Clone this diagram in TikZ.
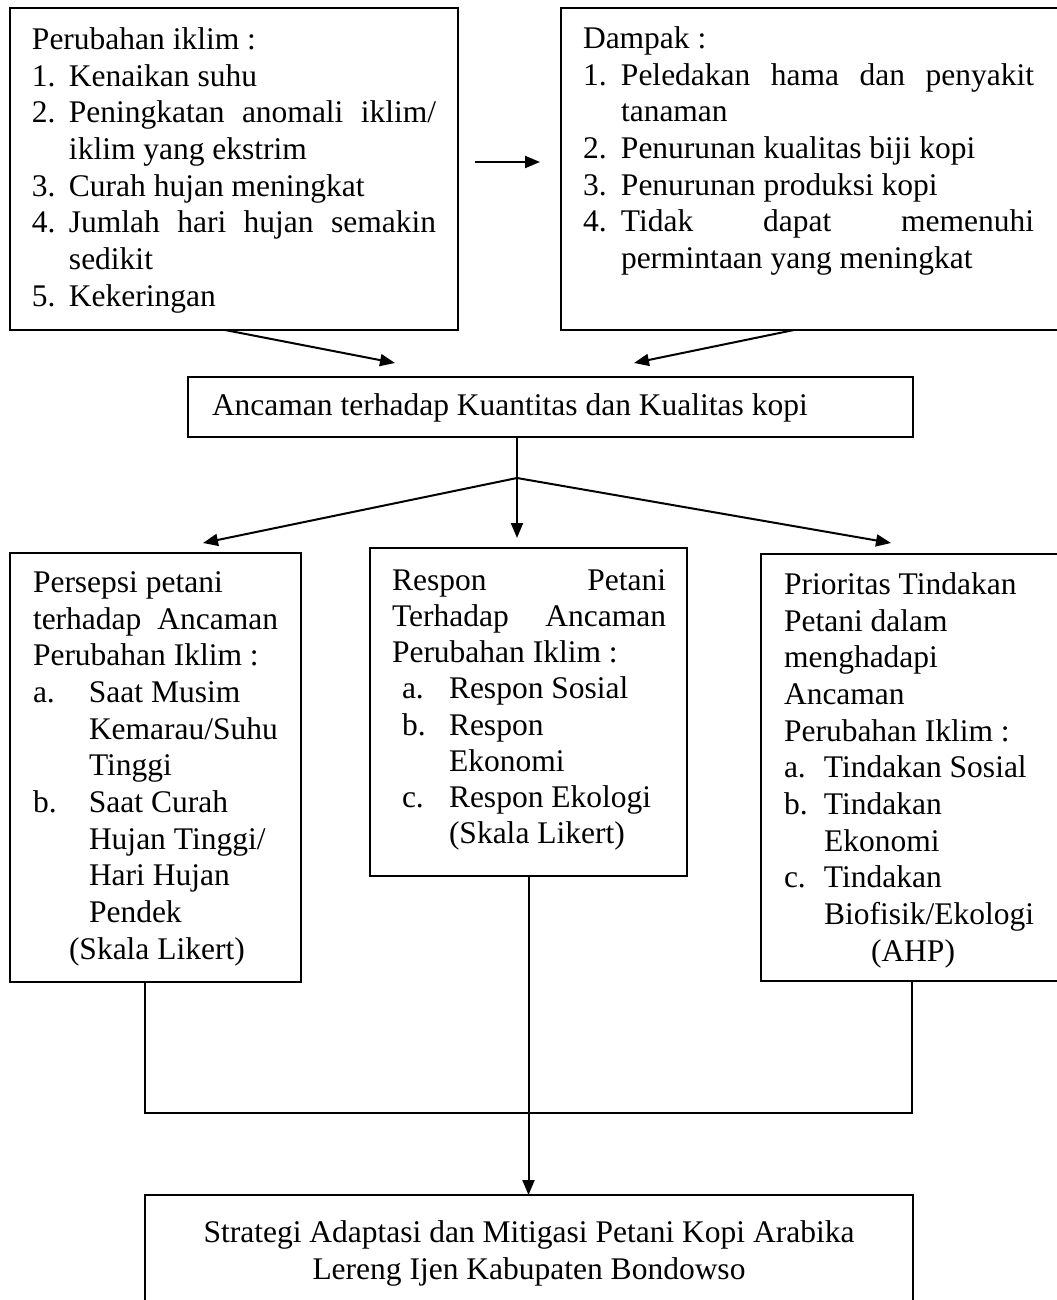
\documentclass[tikz,border=0pt]{standalone}
\usepackage{fontspec}
\setmainfont{Liberation Serif}
\usetikzlibrary{arrows.meta}
\newcommand\JL[2]{\makebox[#1][s]{#2}}
\newcommand\IT[3]{\makebox[#1][l]{#2}#3}
\newcommand\fz{\fontsize{15.75pt}{18.35pt}\selectfont}
\newcommand\fzb{\fontsize{15.75pt}{18.1pt}\selectfont}
\begin{document}
\begin{tikzpicture}[x=0.5pt,y=-0.5pt,line width=1pt,
  box/.style={draw,inner sep=0pt,outer sep=0pt,anchor=north west},
  txt/.style={inner sep=0pt,anchor=north west,align=left,font=\fz},
  arr/.style={-{Triangle[length=7.5pt,width=6pt]}}]
\useasboundingbox[fill=white] (0,0) rectangle (1056,1300);

% boxes
\node[box,minimum width=224pt,minimum height=161pt] (b1) at (10,8) {};
\node[box,minimum width=249pt,minimum height=161pt] (b2) at (561,8) {};
\node[box,minimum width=362.5pt,minimum height=30pt] (b3) at (188,377) {};
\node[box,minimum width=145.5pt,minimum height=214.5pt] (b4) at (10,553) {};
\node[box,minimum width=158.5pt,minimum height=164pt] (b5) at (370,548) {};
\node[box,minimum width=149pt,minimum height=213.5pt] (b6) at (761,554) {};
\node[box,minimum width=384pt,minimum height=70pt] (b7) at (145,1195) {};

% texts
\node[txt] (t1) at (31,26.5) {Perubahan iklim :\\
\IT{18.5pt}{1.}{Kenaikan suhu}\\
\IT{18.5pt}{2.}{\JL{183.5pt}{Peningkatan anomali iklim/}}\\
\hspace*{18.5pt}iklim yang ekstrim\\
\IT{18.5pt}{3.}{Curah hujan meningkat}\\
\IT{18.5pt}{4.}{\JL{183.5pt}{Jumlah hari hujan semakin}}\\
\hspace*{18.5pt}sedikit\\
\IT{18.5pt}{5.}{Kekeringan}};

\node[txt] (t2) at (582,25.5) {Dampak :\\
\IT{19pt}{1.}{\JL{206.5pt}{Peledakan hama dan penyakit}}\\
\hspace*{19pt}tanaman\\
\IT{19pt}{2.}{Penurunan kualitas biji kopi}\\
\IT{19pt}{3.}{Penurunan produksi kopi}\\
\IT{19pt}{4.}{\JL{206.5pt}{Tidak dapat memenuhi}}\\
\hspace*{19pt}permintaan yang meningkat};

\node[inner sep=0pt,anchor=base west,font=\fz] (t3) at (211,415) {Ancaman terhadap Kuantitas dan Kualitas kopi};

\node[txt] (t4) at (32,570.5) {Persepsi petani\\
\JL{122.5pt}{terhadap Ancaman}\\
Perubahan Iklim :\\
\IT{28pt}{a.}{Saat Musim}\\
\hspace*{28pt}Kemarau/Suhu\\
\hspace*{28pt}Tinggi\\
\IT{28pt}{b.}{Saat Curah}\\
\hspace*{28pt}Hujan Tinggi/\\
\hspace*{28pt}Hari Hujan\\
\hspace*{28pt}Pendek\\
\hspace*{18pt}(Skala Likert)};

\node[txt,font=\fzb] (t5) at (391,568.5) {\JL{137pt}{Respon Petani}\\
\JL{137pt}{Terhadap Ancaman}\\
Perubahan Iklim :\\
\hspace*{5pt}\IT{23.5pt}{a.}{Respon Sosial}\\
\hspace*{5pt}\IT{23.5pt}{b.}{Respon}\\
\hspace*{28.5pt}Ekonomi\\
\hspace*{5pt}\IT{23.5pt}{c.}{Respon Ekologi}\\
\hspace*{28.5pt}(Skala Likert)};

\node[txt] (t6) at (783,571.5) {Prioritas Tindakan\\
Petani dalam\\
menghadapi\\
Ancaman\\
Perubahan Iklim :\\
\IT{20pt}{a.}{Tindakan Sosial}\\
\IT{20pt}{b.}{Tindakan}\\
\hspace*{20pt}Ekonomi\\
\IT{20pt}{c.}{Tindakan}\\
\hspace*{20pt}Biofisik/Ekologi\\
\hspace*{43.5pt}(AHP)};

\node[inner sep=0pt,anchor=north,align=center,font=\fz] (t7) at (529,1220) {Strategi Adaptasi dan Mitigasi Petani Kopi Arabika\\
Lereng Ijen Kabupaten Bondowso};

% connector points
\coordinate (p12a) at (475,162);
\coordinate (p12b) at (540,162);
\coordinate (p13a) at (225,330);
\coordinate (p13b) at (395,363);
\coordinate (p23a) at (794,330);
\coordinate (p23b) at (634,363);
\coordinate (s3) at (517,437);
\coordinate (J) at (517,478);
\coordinate (e4) at (203,543);
\coordinate (e5) at (517,538);
\coordinate (e6) at (891,543);
\coordinate (l4) at (145,982);
\coordinate (m4) at (145,1113);
\coordinate (m6) at (912,1113);
\coordinate (l6) at (912,981);

% connectors
\draw[arr] (p12a) -- (p12b);
\draw[arr] (p13a) -- (p13b);
\draw[arr] (p23a) -- (p23b);
\draw (s3) -- (J);
\draw[arr] (J) -- (e4);
\draw[arr] (J) -- (e5);
\draw[arr] (J) -- (e6);
\draw (l4) -- (m4) -- (m6) -- (l6);
\draw[arr] (b5.south) -- (b5.south |- b7.north);
\end{tikzpicture}
\end{document}
